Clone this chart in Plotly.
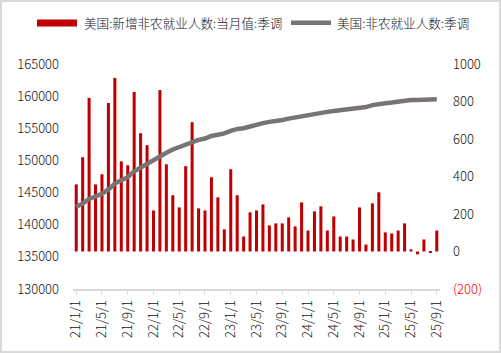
import plotly.graph_objects as go

# Monthly categories 2021-01 .. 2025-09
months = [f"{y}/{m}/1" for y in range(21, 26) for m in range(1, 13)][:57]

# 美国:新增非农就业人数:当月值:季调 (千人)
payroll_change = [
    358, 503, 819, 358, 412, 792, 926, 481, 460, 851, 631, 567,
    219, 861, 465, 300, 235, 455, 690, 230, 219, 396, 289, 118,
    439, 300, 80, 209, 219, 251, 139, 150, 150, 182, 134, 262,
    112, 214, 241, 112, 187, 80, 80, 64, 235, 37, 257, 316,
    102, 96, 112, 150, 11, -15, 64, -4, 112,
]

# 美国:非农就业人数:季调 (千人)
payroll_level = [
    142800, 143300, 144000, 144400, 144800, 145500, 146400, 146900, 147400, 148300, 148900, 149600,
    150000, 150700, 151200, 151700, 152100, 152500, 152900, 153200, 153400, 153800, 154000, 154200,
    154600, 154900, 155000, 155300, 155500, 155800, 156000, 156100, 156300, 156500, 156700, 156850,
    157000, 157250, 157400, 157550, 157700, 157800, 157900, 158000, 158100, 158300, 158600, 158800,
    158900, 159000, 159150, 159300, 159400, 159400, 159450, 159450, 159500,
]

x_ticks = months[::4]
left_ticks = [130000, 135000, 140000, 145000, 150000, 155000, 160000, 165000]
right_ticks = [-200, 0, 200, 400, 600, 800, 1000]
right_ticktext = ['<span style="color:#ff0000">(200)</span>', "0", "200", "400", "600", "800", "1000"]

name_bar = "美国:新增非农就业人数:当月值:季调"
name_line = "美国:非农就业人数:季调"

RED = "#c00000"
GRAY = "#787474"
FONT = "Noto Sans CJK SC, Liberation Sans, sans-serif"

fig = go.Figure()
fig.add_trace(go.Bar(x=months, y=payroll_change, name=name_bar, marker_color=RED,
                     marker_line_width=0, yaxis="y", showlegend=False))
fig.add_trace(go.Scatter(x=months, y=payroll_level, name=name_line, mode="lines",
                         line=dict(color=GRAY, width=4.5, shape="linear"),
                         yaxis="y2", showlegend=False))

L, R, T, B = 73, 61, 64, 64
W, H = 501, 353
pw, ph = W - L - R, H - T - B

def px(xp):
    return (xp - L) / pw

def py(yp):
    return (H - B - yp) / ph

tf = dict(family=FONT, size=13, color="#111111", weight=300)

fig.update_layout(
    width=W, height=H,
    margin=dict(l=L, r=R, t=T, b=B),
    paper_bgcolor="white", plot_bgcolor="white",
    font=dict(family=FONT, size=13, color="#111111"),
    bargap=0.53,
    xaxis=dict(type="category", tickmode="array", tickvals=x_ticks, ticktext=x_ticks,
               tickangle=-90, showgrid=False, showline=True, linecolor="#d9d9d9", linewidth=1.5,
               ticks="outside", ticklen=4, tickcolor="#d9d9d9", tickfont=tf,
               range=[-0.5, 56.5]),
    yaxis=dict(side="right", range=[-200, 1000], tickmode="array", tickvals=right_ticks,
               ticktext=right_ticktext, showgrid=False, zeroline=False, showline=False,
               ticklabelstandoff=12, tickfont=tf),
    yaxis2=dict(side="left", overlaying="y", range=[130000, 165000], tickmode="array",
                tickvals=left_ticks, ticktext=[str(v) for v in left_ticks], showgrid=False,
                zeroline=False, showline=False, ticklabelstandoff=13, tickfont=tf),
    showlegend=False,
)

# border around the chart
fig.add_shape(type="rect", xref="paper", yref="paper", x0=px(1), x1=px(500), y0=py(352), y1=py(1),
              line=dict(color="#d9d9d9", width=2), fillcolor="rgba(0,0,0,0)", layer="below")

# legend
fig.add_shape(type="rect", xref="paper", yref="paper", x0=px(37), x1=px(77), y0=py(26.5), y1=py(19.5),
              line=dict(width=0), fillcolor=RED)
fig.add_shape(type="line", xref="paper", yref="paper", x0=px(291), x1=px(331), y0=py(22.7), y1=py(22.7),
              line=dict(color=GRAY, width=4.5))
fig.add_annotation(xref="paper", yref="paper", x=px(82), y=py(22.7), text=name_bar, showarrow=False,
                   xanchor="left", yanchor="middle", font=dict(size=12.6, family=FONT, weight=300))
fig.add_annotation(xref="paper", yref="paper", x=px(335), y=py(22.7), text=name_line, showarrow=False,
                   xanchor="left", yanchor="middle", font=dict(size=12.6, family=FONT, weight=300))

fig.write_html("out.html")
